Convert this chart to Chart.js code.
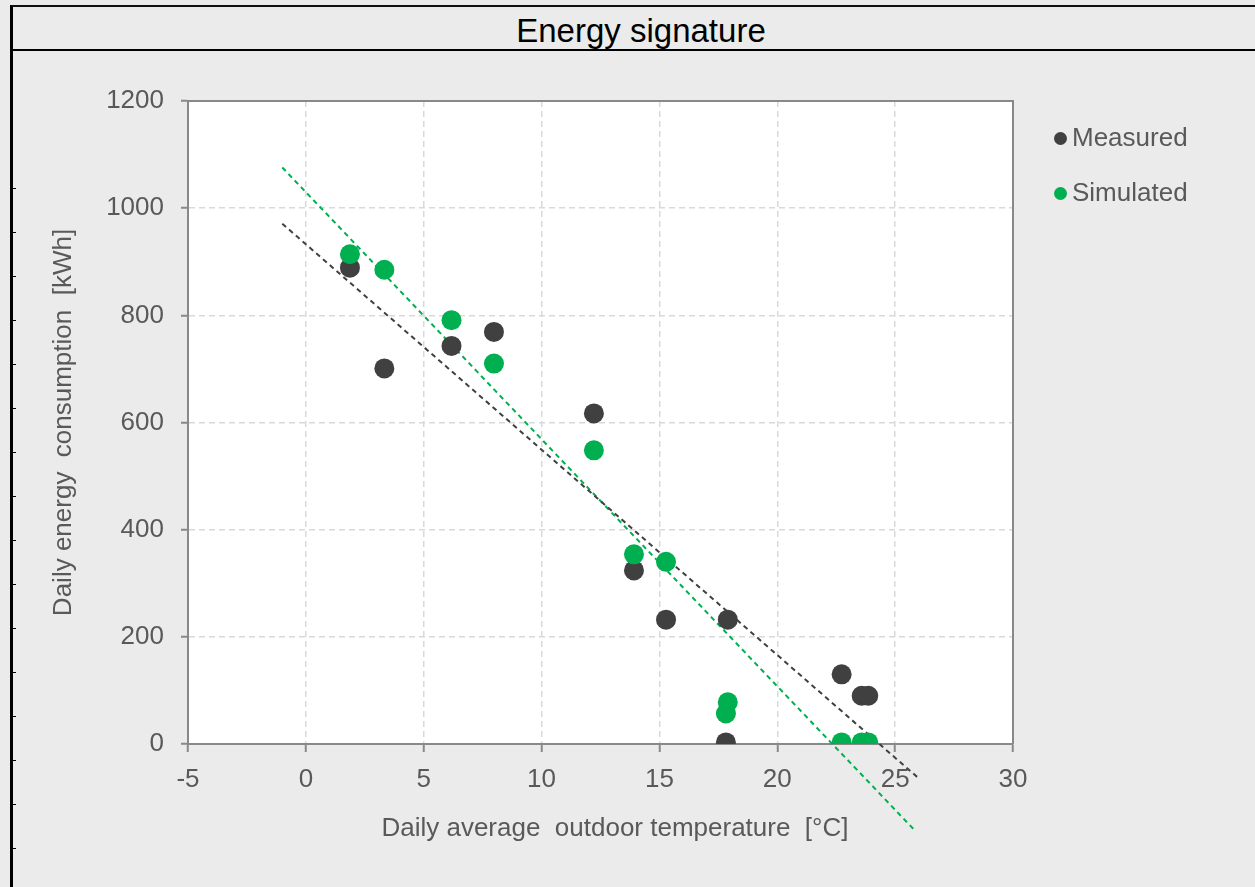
<!DOCTYPE html>
<html>
<head>
<meta charset="utf-8">
<title>Energy signature</title>
<script src="https://cdn.jsdelivr.net/npm/chart.js@4.4.1/dist/chart.umd.min.js"></script>
<style>
    html, body {
        margin: 0;
        padding: 0;
        width: 1255px;
        height: 887px;
        overflow: hidden;
        background: #ebebeb;
        font-family: "Liberation Sans", Arial, sans-serif;
    }
    #frame {
        position: absolute;
        left: 10px;
        top: 5px;
        width: 1300px;
        height: 900px;
        border-left: 3px solid #000;
        border-top: 2px solid #111;
        /* little row marks along the left edge */
        background: repeating-linear-gradient(to bottom, transparent 0px, transparent 43px, #000 43px, #000 44px) no-repeat;
        background-size: 3px 900px;
        background-position: 0 138px;
    }
    #titleBar {
        position: absolute;
        left: 10px;
        top: 7px;
        width: 1262px;
        height: 42px;
        border-bottom: 2px solid #000;
        text-align: center;
        font-size: 33px;
        line-height: 48px;
        color: #000;
    }
    #chartCanvas {
        position: absolute;
        left: 0;
        top: 0;
    }
    #legend {
        position: absolute;
        left: 1054px;
        top: 122px;
        font-size: 26px;
        color: #595959;
    }
    .legend-item {
        height: 30px;
        line-height: 30px;
        margin-bottom: 25px;
        white-space: nowrap;
    }
    .legend-dot {
        display: inline-block;
        width: 13px;
        height: 13px;
        border-radius: 50%;
        margin-right: 5px;
        vertical-align: 1px;
    }
</style>
</head>
<body>
<div id="frame"></div>
<div id="titleBar">Energy signature</div>
<canvas id="chartCanvas" width="1255" height="887"></canvas>
<div id="legend"></div>

<script>
// data
const seriesNames = ['Measured', 'Simulated'];
const seriesColors = ['#404040', '#00b050'];

const measuredTemp = [1.87, 3.33, 6.18, 7.98, 12.22, 13.92, 15.28, 17.9, 17.82, 22.73, 23.58, 23.86];
const measuredEnergy = [889, 701, 743, 769, 617, 324, 232, 232, 3, 130, 90, 90];

const simulatedTemp = [1.87, 3.33, 6.18, 7.98, 12.22, 13.92, 15.28, 17.9, 17.82, 22.73, 23.58, 23.86];
const simulatedEnergy = [914, 885, 791, 710, 548, 354, 340, 78, 57, 3, 3, 3];

// linear trend lines (end points)
const measuredTrendTemp = [-1, 26];
const measuredTrendEnergy = [971, -64];
const simulatedTrendTemp = [-1, 25.85];
const simulatedTrendEnergy = [1076, -162];

const xTitle = '    Daily average  outdoor temperature  [°C]';
const yTitle = 'Daily energy  consumption  [kWh]';

const FONT = "'Liberation Sans', Arial, sans-serif";
const FONT_SIZE = 26;
const TEXT_GREY = '#595959';
const AXIS_GREY = '#898989';
const GRID_GREY = '#d9d9d9';

function toPoints(xs, ys) {
    return xs.map((x, i) => ({ x: x, y: ys[i] }));
}

// white plot area + top/right frame of the plot
const plotAreaPlugin = {
    id: 'plotArea',
    beforeDraw(chart) {
        const { ctx, chartArea } = chart;
        ctx.save();
        ctx.fillStyle = '#ffffff';
        ctx.fillRect(chartArea.left, chartArea.top, chartArea.right - chartArea.left, chartArea.bottom - chartArea.top);
        ctx.restore();
    },
    beforeDatasetsDraw(chart) {
        const { ctx, chartArea } = chart;
        ctx.save();
        ctx.strokeStyle = AXIS_GREY;
        ctx.lineWidth = 2;
        ctx.beginPath();
        ctx.moveTo(chartArea.left, chartArea.top);
        ctx.lineTo(chartArea.right, chartArea.top);
        ctx.lineTo(chartArea.right, chartArea.bottom);
        ctx.stroke();
        ctx.restore();
    }
};

const trendStyle = {
    type: 'line',
    showLine: true,
    pointRadius: 0,
    pointHoverRadius: 0,
    borderWidth: 2,
    borderDash: [5, 4],
    fill: false,
    clip: false,
    order: 3
};

const ctx = document.getElementById('chartCanvas');

const chart = new Chart(ctx, {
    type: 'scatter',
    data: {
        datasets: [
            Object.assign({}, trendStyle, {
                label: 'Measured trend',
                data: toPoints(measuredTrendTemp, measuredTrendEnergy),
                borderColor: seriesColors[0]
            }),
            Object.assign({}, trendStyle, {
                label: 'Simulated trend',
                data: toPoints(simulatedTrendTemp, simulatedTrendEnergy),
                borderColor: seriesColors[1]
            }),
            {
                label: seriesNames[0],
                data: toPoints(measuredTemp, measuredEnergy),
                backgroundColor: seriesColors[0],
                borderWidth: 0,
                pointRadius: 10,
                pointHoverRadius: 10,
                order: 2
            },
            {
                label: seriesNames[1],
                data: toPoints(simulatedTemp, simulatedEnergy),
                backgroundColor: seriesColors[1],
                borderWidth: 0,
                pointRadius: 10,
                pointHoverRadius: 10,
                order: 1
            }
        ]
    },
    options: {
        responsive: false,
        animation: false,
        events: [],
        layout: {
            padding: { left: 0, top: 101, right: 242, bottom: 0 }
        },
        scales: {
            x: {
                type: 'linear',
                min: -5,
                max: 30,
                ticks: {
                    stepSize: 5,
                    color: TEXT_GREY,
                    font: { family: FONT, size: FONT_SIZE },
                    padding: 12,
                    callback: (v) => String(v)
                },
                grid: {
                    color: GRID_GREY,
                    lineWidth: 1.5,
                    tickLength: 8,
                    tickColor: AXIS_GREY,
                    tickWidth: 2
                },
                border: { color: AXIS_GREY, width: 2, dash: [6, 4] },
                title: {
                    display: true,
                    text: xTitle,
                    color: TEXT_GREY,
                    font: { family: FONT, size: FONT_SIZE },
                    padding: { top: 0, bottom: 43 }
                },
                afterFit(scale) { scale.height = 143; }
            },
            y: {
                type: 'linear',
                min: 0,
                max: 1200,
                ticks: {
                    stepSize: 200,
                    color: TEXT_GREY,
                    font: { family: FONT, size: FONT_SIZE },
                    padding: 17,
                    callback: (v) => String(v)
                },
                grid: {
                    color: GRID_GREY,
                    lineWidth: 1.5,
                    tickLength: 7,
                    tickColor: AXIS_GREY,
                    tickWidth: 2
                },
                border: { color: AXIS_GREY, width: 2, dash: [6, 4] },
                title: {
                    display: true,
                    text: yTitle,
                    color: TEXT_GREY,
                    font: { family: FONT, size: FONT_SIZE },
                    padding: { top: 48, bottom: 0 }
                },
                afterFit(scale) { scale.width = 188; }
            }
        },
        plugins: {
            legend: { display: false },
            tooltip: { enabled: false },
            title: { display: false }
        }
    },
    plugins: [plotAreaPlugin]
});

// legend built from the series
const legendEl = document.getElementById('legend');
seriesNames.forEach((name, i) => {
    const item = document.createElement('div');
    item.className = 'legend-item';
    const dot = document.createElement('span');
    dot.className = 'legend-dot';
    dot.style.background = seriesColors[i];
    item.appendChild(dot);
    item.appendChild(document.createTextNode(name));
    legendEl.appendChild(item);
});
</script>
</body>
</html>
